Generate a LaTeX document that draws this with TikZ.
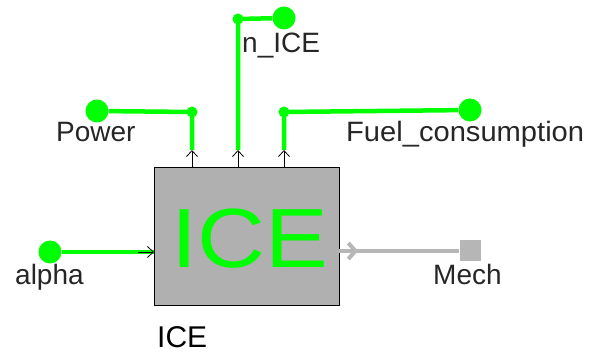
\documentclass[tikz,border=0pt]{standalone}
\usepackage{fontspec}
\setmainfont{Liberation Sans}
\usetikzlibrary{arrows.meta}
\definecolor{sigGreen}{RGB}{0,255,0}
\definecolor{blockGray}{RGB}{176,176,176}
\definecolor{mechGray}{RGB}{182,182,182}
\tikzset{
  sigline/.style={draw=sigGreen, line width=4.5pt},
  bigdot/.style={circle, fill=sigGreen, minimum size=23pt, inner sep=0pt},
  portlabel/.style={anchor=base west, inner sep=0pt, text=black!85,
    font=\fontsize{28}{28}\selectfont},
  pin/.style={black, line width=0.8pt, -{Straight Barb[length=6pt,width=11pt]}},
}
\begin{document}
\begin{tikzpicture}[x=1pt,y=-1pt]
    \useasboundingbox (0,0) rectangle (595,355);

    % block
    \node[draw, line width=1pt, fill=blockGray, minimum width=185pt,
      minimum height=138pt, inner sep=0pt] (ice) at (246.5,237) {};
    \node[anchor=base, inner sep=0pt, text=sigGreen,
      font=\fontsize{84}{84}\selectfont\addfontfeature{FakeStretch=1.12}] (iceText) at (250,268) {ICE};
    \node[anchor=base west, inner sep=0pt,
      font=\fontsize{30}{30}\selectfont] (iceName) at (157,348) {ICE};

    % ports on the top edge
    \coordinate (pinP) at (192,168);
    \coordinate (pinN) at (238,168);
    \coordinate (pinF) at (284,168);
    \coordinate (tipP) at (192,150);
    \coordinate (tipN) at (238,150);
    \coordinate (tipF) at (284,150);
    \coordinate (jP) at (192,112);
    \coordinate (jN) at (238,19);
    \coordinate (jF) at (284,112);

    % Power
    \node[bigdot] (dotP) at (97,111) {};
    \draw[sigline] (dotP) -- (jP) -- (tipP);
    \fill[sigGreen] (jP) circle (5.5pt);
    \draw[pin] (pinP) -- (tipP);
    \node[portlabel] (lblP) at (56,142) {Power};

    % n_ICE
    \node[bigdot] (dotN) at (284,18) {};
    \draw[sigline] (dotN) -- (jN) -- (tipN);
    \fill[sigGreen] (jN) circle (5.5pt);
    \draw[pin] (pinN) -- (tipN);
    \node[portlabel] (lblN) at (242,53) {n\_ICE};

    % Fuel_consumption
    \node[bigdot] (dotF) at (470,110) {};
    \draw[sigline] (dotF) -- (jF) -- (tipF);
    \fill[sigGreen] (jF) circle (5.5pt);
    \draw[pin] (pinF) -- (tipF);
    \node[portlabel, font=\fontsize{28}{28}\selectfont\addfontfeature{FakeStretch=1.04}] (lblF) at (346,142) {Fuel\_consumption};

    % alpha
    \coordinate (inA) at (154,252);
    \coordinate (stemA) at (138,252);
    \node[bigdot] (dotA) at (50,252) {};
    \draw[sigline] (dotA) -- (inA);
    \draw[pin] (stemA) -- (inA);
    \node[portlabel] (lblA) at (15,285) {alpha};

    % Mech
    \coordinate (outM) at (339,251);
    \coordinate (tipM) at (358,251);
    \node[fill=mechGray, minimum size=21pt, inner sep=0pt] (sqM) at (470,251) {};
    \draw[mechGray, line width=4pt] (outM) -- (sqM);
    \draw[mechGray, line width=4pt, -{Straight Barb[length=7pt,width=16pt]}] (outM) -- (tipM);
    \node[portlabel] (lblM) at (433,285) {Mech};
\end{tikzpicture}
\end{document}
